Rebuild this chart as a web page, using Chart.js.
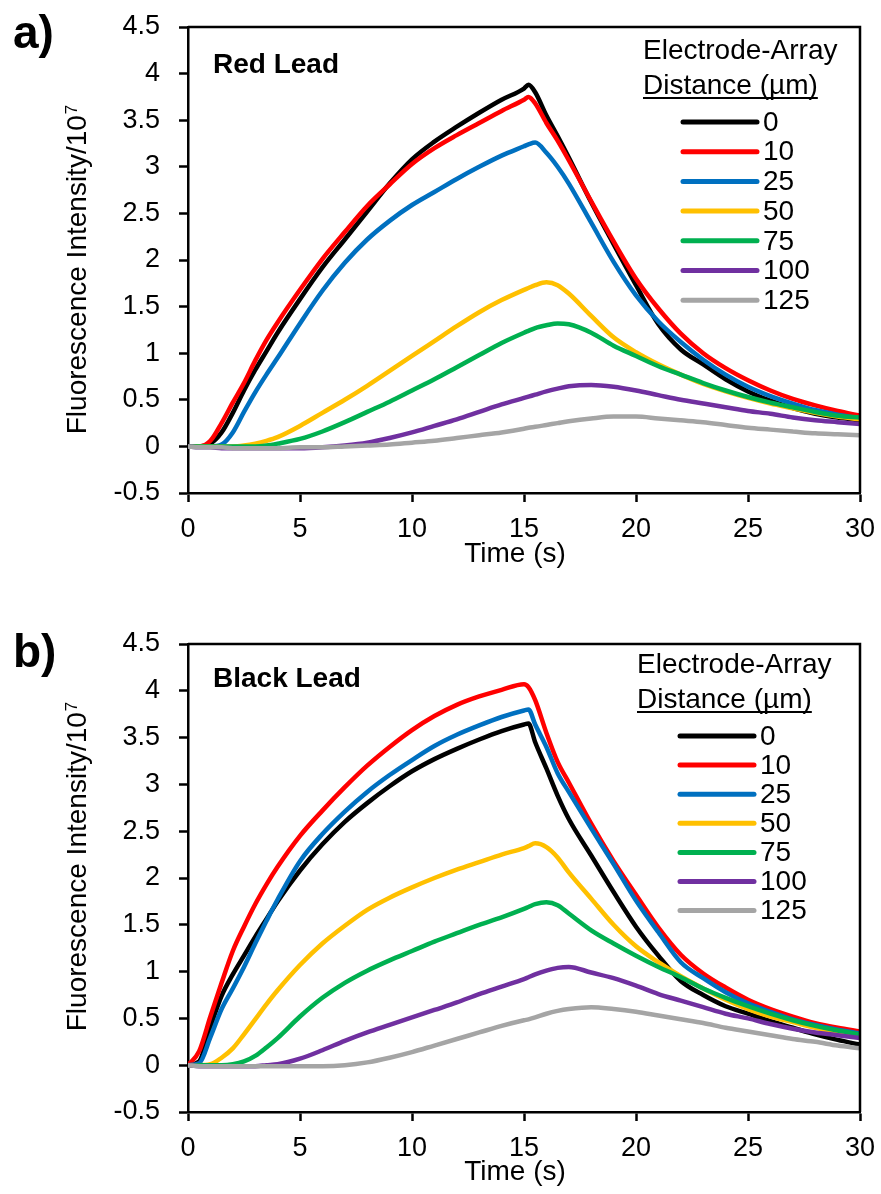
<!DOCTYPE html>
<html>
<head>
<meta charset="utf-8">
<script src="https://cdn.jsdelivr.net/npm/chart.js@4.4.1/dist/chart.umd.min.js"></script>
<style>
  body { margin: 0; background: #fff; }
  .panel { width: 881px; height: 597px; }
  canvas { display: block; }
</style>
</head>
<body>
<div class="panel"><canvas id="chartA" width="881" height="597"></canvas></div>
<div class="panel"><canvas id="chartB" width="881" height="597"></canvas></div>
<script>
// time axis (s), shared by every curve
const time = [0, 0.5, 1, 1.5, 2, 2.5, 3, 3.5, 4, 5, 6, 7, 8, 9, 10, 11, 12, 13, 14, 15,
  15.2, 15.5, 16, 16.5, 17, 18, 19, 20, 21, 22, 23, 24, 25, 26, 27, 28, 29, 30];

const distances = ["0", "10", "25", "50", "75", "100", "125"];
const lineColors = ["#000000", "#ff0000", "#0070c0", "#ffc000", "#00b050", "#7030a0", "#a5a5a5"];
const legendTitle = ["Electrode-Array", "Distance (µm)"];

// a) Red Lead, fluorescence / 10^7
const redLead0 = [0, 0, 0.03, 0.15, 0.36, 0.6, 0.82, 1.02, 1.22, 1.58, 1.92, 2.22, 2.52, 2.82, 3.08, 3.27, 3.43, 3.58, 3.72, 3.84,
  3.88, 3.8, 3.55, 3.33, 3.1, 2.62, 2.17, 1.73, 1.31, 1.04, 0.88, 0.72, 0.59, 0.49, 0.41, 0.35, 0.31, 0.28];
const redLead10 = [0, 0, 0.06, 0.25, 0.47, 0.68, 0.92, 1.14, 1.33, 1.68, 2.01, 2.3, 2.58, 2.81, 3.03, 3.2, 3.34, 3.47, 3.6, 3.72,
  3.75, 3.68, 3.47, 3.28, 3.07, 2.63, 2.2, 1.8, 1.48, 1.21, 1.0, 0.84, 0.71, 0.6, 0.51, 0.44, 0.38, 0.33];
const redLead25 = [0, 0, 0, 0.02, 0.15, 0.37, 0.58, 0.77, 0.95, 1.32, 1.67, 1.97, 2.22, 2.42, 2.59, 2.73, 2.87, 3.0, 3.12, 3.22,
  3.24, 3.26, 3.15, 3.0, 2.82, 2.4, 1.98, 1.62, 1.34, 1.12, 0.93, 0.77, 0.64, 0.54, 0.46, 0.39, 0.34, 0.3];
const redLead50 = [0, 0, 0, 0, 0, 0.01, 0.03, 0.06, 0.1, 0.22, 0.36, 0.5, 0.65, 0.81, 0.97, 1.13, 1.29, 1.44, 1.57, 1.68,
  1.7, 1.73, 1.76, 1.73, 1.64, 1.4, 1.17, 1.01, 0.88, 0.77, 0.67, 0.59, 0.52, 0.46, 0.41, 0.36, 0.32, 0.29];
const redLead75 = [0, 0, 0, 0, 0, 0, 0, 0.01, 0.03, 0.08, 0.16, 0.26, 0.37, 0.48, 0.6, 0.72, 0.85, 0.98, 1.11, 1.22,
  1.24, 1.27, 1.3, 1.32, 1.31, 1.22, 1.08, 0.97, 0.86, 0.77, 0.68, 0.6, 0.53, 0.47, 0.42, 0.37, 0.33, 0.31];
const redLead100 = [0, -0.01, -0.01, -0.02, -0.02, -0.02, -0.02, -0.02, -0.02, -0.02, -0.01, 0.01, 0.04, 0.09, 0.15, 0.22, 0.29, 0.37, 0.45, 0.52,
  0.534, 0.555, 0.59, 0.62, 0.645, 0.66, 0.64, 0.6, 0.55, 0.5, 0.46, 0.42, 0.38, 0.35, 0.31, 0.28, 0.26, 0.24];
const redLead125 = [0, -0.01, -0.01, -0.01, -0.02, -0.02, -0.02, -0.02, -0.02, -0.01, -0.01, 0, 0.01, 0.02, 0.04, 0.06, 0.09, 0.12, 0.15, 0.19,
  0.2, 0.21, 0.23, 0.25, 0.27, 0.3, 0.32, 0.32, 0.3, 0.28, 0.26, 0.23, 0.2, 0.18, 0.16, 0.14, 0.13, 0.12];

// b) Black Lead
const blackLead0 = [0, 0.04, 0.41, 0.74, 0.97, 1.17, 1.37, 1.56, 1.75, 2.08, 2.36, 2.6, 2.8, 2.98, 3.14, 3.27, 3.38, 3.48, 3.57, 3.64,
  3.65, 3.45, 3.17, 2.88, 2.63, 2.24, 1.85, 1.48, 1.17, 0.9, 0.75, 0.63, 0.55, 0.47, 0.4, 0.33, 0.27, 0.22];
const blackLead10 = [0, 0.15, 0.52, 0.88, 1.22, 1.48, 1.72, 1.93, 2.12, 2.45, 2.72, 2.97, 3.2, 3.4, 3.58, 3.73, 3.85, 3.94, 4.01, 4.07,
  4.04, 3.9, 3.55, 3.24, 3.02, 2.58, 2.18, 1.82, 1.47, 1.18, 0.98, 0.83, 0.7, 0.6, 0.52, 0.45, 0.4, 0.36];
const blackLead25 = [0, 0.02, 0.3, 0.6, 0.82, 1.05, 1.3, 1.54, 1.77, 2.18, 2.47, 2.71, 2.92, 3.1, 3.26, 3.41, 3.53, 3.63, 3.72, 3.79,
  3.8, 3.64, 3.4, 3.12, 2.92, 2.53, 2.15, 1.76, 1.42, 1.1, 0.93, 0.78, 0.66, 0.57, 0.49, 0.43, 0.38, 0.34];
const blackLead50 = [0, 0, 0.01, 0.08, 0.18, 0.33, 0.49, 0.65, 0.8, 1.07, 1.3, 1.49, 1.66, 1.79, 1.9, 2.0, 2.09, 2.17, 2.25, 2.32,
  2.34, 2.37, 2.33, 2.22, 2.06, 1.78, 1.5, 1.27, 1.1, 0.95, 0.82, 0.7, 0.6, 0.52, 0.46, 0.4, 0.35, 0.31];
const blackLead75 = [0, 0, 0, 0, 0.01, 0.04, 0.1, 0.19, 0.29, 0.52, 0.72, 0.88, 1.01, 1.12, 1.22, 1.32, 1.41, 1.5, 1.58, 1.67,
  1.69, 1.72, 1.74, 1.71, 1.62, 1.44, 1.3, 1.17, 1.05, 0.94, 0.82, 0.72, 0.63, 0.55, 0.48, 0.42, 0.37, 0.33];
const blackLead100 = [0, -0.01, -0.01, -0.01, -0.01, -0.01, -0.01, 0, 0.01, 0.07, 0.16, 0.26, 0.35, 0.43, 0.51, 0.59, 0.67, 0.76, 0.84, 0.92,
  0.94, 0.97, 1.01, 1.04, 1.05, 0.99, 0.93, 0.85, 0.76, 0.69, 0.62, 0.55, 0.5, 0.44, 0.39, 0.35, 0.32, 0.29];
const blackLead125 = [0, -0.01, -0.01, -0.01, -0.01, -0.01, -0.01, -0.01, -0.01, -0.01, -0.01, 0, 0.03, 0.08, 0.14, 0.21, 0.28, 0.35, 0.42, 0.48,
  0.49, 0.51, 0.55, 0.58, 0.6, 0.62, 0.6, 0.57, 0.53, 0.49, 0.45, 0.4, 0.36, 0.32, 0.28, 0.25, 0.21, 0.18];

const FONT = '"Liberation Sans", Arial, sans-serif';

function makeDatasets(series) {
  return series.map((values, i) => ({
    label: distances[i],
    data: values.map((v, k) => ({ x: time[k], y: v })),
    borderColor: lineColors[i],
    borderWidth: 4.5,
    pointRadius: 0,
    cubicInterpolationMode: "monotone",
    borderCapStyle: "round",
    borderJoinStyle: "round",
    fill: false,
    order: series.length - i,
  }));
}

// axis titles, box, panel labels and the legend
const panelDecor = {
  id: "panelDecor",
  afterDraw(chart, args, opts) {
    const ctx = chart.ctx;
    const area = chart.chartArea;
    ctx.save();
    ctx.strokeStyle = "#000";
    ctx.lineWidth = 2.5;
    ctx.beginPath();
    ctx.moveTo(area.left, area.top);
    ctx.lineTo(area.right, area.top);
    ctx.lineTo(area.right, area.bottom);
    ctx.stroke();

    ctx.fillStyle = "#000";
    ctx.textAlign = "left";
    ctx.textBaseline = "alphabetic";
    ctx.font = "bold 46px " + FONT;
    ctx.fillText(opts.letter, 13, opts.letterY);
    ctx.font = "bold 28px " + FONT;
    ctx.fillText(opts.name, 213, opts.nameY);

    // legend
    ctx.font = "28px " + FONT;
    ctx.fillText(legendTitle[0], opts.legendX, opts.titleY);
    ctx.fillText(legendTitle[1], opts.legendX, opts.titleY + 35);
    const w = ctx.measureText(legendTitle[1]).width;
    ctx.lineWidth = 2;
    ctx.beginPath();
    ctx.moveTo(opts.legendX, opts.titleY + 39);
    ctx.lineTo(opts.legendX + w, opts.titleY + 39);
    ctx.stroke();
    ctx.textBaseline = "middle";
    chart.data.datasets.forEach((ds, i) => {
      const y = opts.rowY + i * opts.rowStep;
      ctx.strokeStyle = ds.borderColor;
      ctx.lineWidth = 5;
      ctx.lineCap = "round";
      ctx.beginPath();
      ctx.moveTo(opts.lineX, y);
      ctx.lineTo(opts.lineX + 74, y);
      ctx.stroke();
      ctx.fillText(ds.label, opts.lineX + 80, y + 1);
    });

    // x title
    ctx.textAlign = "center";
    ctx.textBaseline = "alphabetic";
    ctx.font = "28px " + FONT;
    ctx.fillText("Time (s)", 515, opts.xTitleY);

    // y title with superscript
    ctx.translate(86, 270);
    ctx.rotate(-Math.PI / 2);
    const main = "Fluorescence Intensity/10";
    const mw = ctx.measureText(main).width;
    ctx.font = "17px " + FONT;
    const sw = ctx.measureText("7").width;
    const x0 = -(mw + sw) / 2;
    ctx.textAlign = "left";
    ctx.font = "28px " + FONT;
    ctx.fillText(main, x0, 0);
    ctx.font = "17px " + FONT;
    ctx.fillText("7", x0 + mw + 1, -9);
    ctx.restore();
  },
};

function makeChart(id, series, decor, topPad, xHeight) {
  return new Chart(document.getElementById(id).getContext("2d"), {
    type: "line",
    data: { datasets: makeDatasets(series) },
    options: {
      responsive: false,
      animation: false,
      layout: { padding: { left: 0, right: 21, top: topPad, bottom: 0 } },
      plugins: {
        legend: { display: false },
        tooltip: { enabled: false },
        panelDecor: decor,
      },
      scales: {
        x: {
          type: "linear",
          min: 0,
          max: 30,
          afterFit: (scale) => {
            scale.height = xHeight;
            scale.paddingLeft = 0;
            scale.paddingRight = 0;
          },
          ticks: { stepSize: 5, color: "#000", padding: 11, font: { family: FONT, size: 27 } },
          grid: { drawOnChartArea: false, drawTicks: true, tickLength: 9, tickWidth: 2.5, tickColor: "#000" },
          border: { color: "#000", width: 2.5 },
        },
        y: {
          min: -0.5,
          max: 4.5,
          afterFit: (scale) => {
            scale.width = 188;
            scale.paddingTop = 0;
            scale.paddingBottom = 0;
          },
          ticks: {
            stepSize: 0.5,
            color: "#000",
            padding: 19,
            font: { family: FONT, size: 27 },
            callback: (v) => String(Math.round(v * 10) / 10),
          },
          grid: { drawOnChartArea: false, drawTicks: true, tickLength: 9, tickWidth: 2.5, tickColor: "#000" },
          border: { color: "#000", width: 2.5 },
        },
      },
    },
    plugins: [panelDecor],
  });
}

const chartA = makeChart("chartA",
  [redLead0, redLead10, redLead25, redLead50, redLead75, redLead100, redLead125],
  { letter: "a)", letterY: 48, name: "Red Lead", nameY: 73, legendX: 643, titleY: 59, lineX: 683, rowY: 122, rowStep: 29.7, xTitleY: 562 },
  27, 104);

const chartB = makeChart("chartB",
  [blackLead0, blackLead10, blackLead25, blackLead50, blackLead75, blackLead100, blackLead125],
  { letter: "b)", letterY: 70, name: "Black Lead", nameY: 90, legendX: 637, titleY: 76, lineX: 680, rowY: 139, rowStep: 29.1, xTitleY: 583 },
  47, 82);
</script>
</body>
</html>
